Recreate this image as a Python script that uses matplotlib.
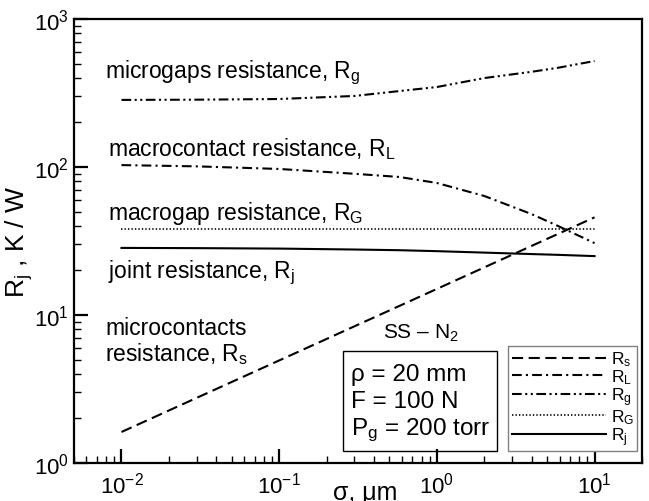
import numpy as np
import matplotlib
matplotlib.use("Agg")
import matplotlib.pyplot as plt
from matplotlib.patches import Rectangle

plt.rcParams['font.family'] = ['Liberation Sans', 'DejaVu Sans']
plt.rcParams['mathtext.fontset'] = 'custom'
plt.rcParams['mathtext.rm'] = 'Liberation Sans'
plt.rcParams['mathtext.it'] = 'Liberation Sans'
plt.rcParams['mathtext.default'] = 'regular'
plt.rcParams['lines.scale_dashes'] = False

# data
sigma_s = [0.01, 0.1, 1.0, 10.0]
R_s = [1.62, 4.93, 15.0, 45.7]

sigma = [0.01, 0.03, 0.1, 0.3, 0.58, 1.0, 2.0, 4.0, 5.85, 10.0]
R_L = [103, 101, 97, 90, 85.6, 78, 63.7, 48, 40, 30.6]
R_g = [284, 285, 288, 302, 326, 347, 399, 440, 468, 520]
R_G = [38.2] * len(sigma)
R_j = [28.4, 28.3, 28.1, 27.7, 27.4, 27.0, 26.4, 25.8, 25.5, 25.0]

fig = plt.figure(figsize=(6.49, 5.02), dpi=100)
ax = fig.add_axes([74/649, 38/502, 568/649, 444/502])

lw = 1.5
ax.plot(sigma_s, R_s, color='k', lw=lw, dashes=(8, 4), label='R$_s$')
ax.plot(sigma, R_L, color='k', lw=lw, dashes=(7, 3, 1.5, 3), label='R$_L$')
ax.plot(sigma, R_g, color='k', lw=lw, dashes=(7, 2.5, 1.5, 2.5, 1.5, 2.5), label='R$_g$')
ax.plot(sigma, R_G, color='k', lw=1.2, dashes=(1, 1.5), label='R$_G$')
ax.plot(sigma, R_j, color='k', lw=lw, label='R$_j$')

ax.set_xscale('log')
ax.set_yscale('log')
ax.set_xlim(0.005, 20)
ax.set_ylim(1, 1000)

for s in ['left', 'bottom', 'top', 'right']:
    ax.spines[s].set_linewidth(1.6)
ax.tick_params(which='both', direction='in', top=False, right=False, labelsize=16, width=1.0)
ax.tick_params(which='major', length=10, width=1.6)
ax.tick_params(which='minor', length=5)
ax.tick_params(axis='x', pad=6)

ax.set_ylabel('R$_j$ , K / W', fontsize=19)
ax.yaxis.set_label_coords(-0.068, 0.5)
ax.set_xlabel('σ, μm', fontsize=18, va='top')
ax.xaxis.set_label_coords(0.512, -0.038)

fs = 16.5
ax.text(0.055, 0.88, 'microgaps resistance, R$_g$', transform=ax.transAxes, fontsize=fs, va='center')
ax.text(0.06, 0.71, 'macrocontact resistance, R$_L$', transform=ax.transAxes, fontsize=fs, va='center')
ax.text(0.06, 0.565, 'macrogap resistance, R$_G$', transform=ax.transAxes, fontsize=fs, va='center')
ax.text(0.06, 0.43, 'joint resistance, R$_j$', transform=ax.transAxes, fontsize=fs, va='center')
ax.text(0.055, 0.275, 'microcontacts\nresistance, R$_s$', transform=ax.transAxes, fontsize=fs,
        va='center', linespacing=1.05)

ax.text(0.61, 0.295, 'SS – N$_2$', transform=ax.transAxes, fontsize=15, ha='center', va='center')
ax.add_patch(Rectangle((0.474, 0.027), 0.271, 0.225, transform=ax.transAxes,
                       fill=False, edgecolor='k', lw=1.0))
ax.text(0.487, 0.20, 'ρ = 20 mm', transform=ax.transAxes, fontsize=17.5, va='center')
ax.text(0.487, 0.14, 'F = 100 N', transform=ax.transAxes, fontsize=17.5, va='center')
ax.text(0.487, 0.075, 'P$_g$ = 200 torr', transform=ax.transAxes, fontsize=17.5, va='center')

leg = ax.legend(loc='lower right', bbox_to_anchor=(0.992, 0.027), fontsize=12.5,
                handlelength=5.4, labelspacing=-0.05, borderpad=0.2, handletextpad=0.3,
                fancybox=False, framealpha=1, edgecolor='gray', borderaxespad=0)
leg.get_frame().set_linewidth(1.0)

fig.savefig('out.png', dpi=100)
